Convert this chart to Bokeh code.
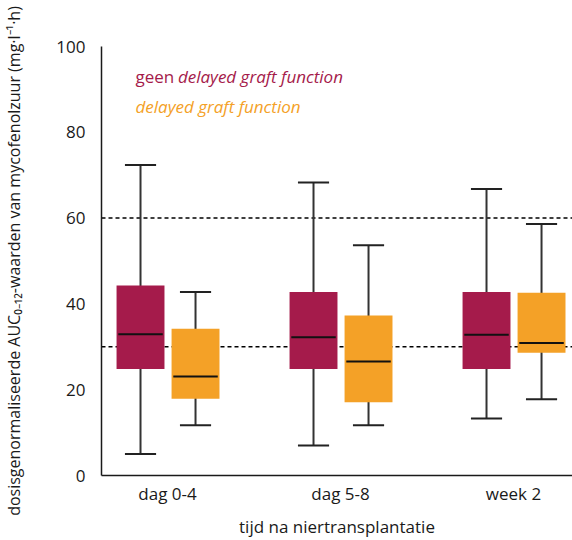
import numpy as np
from bokeh.plotting import figure
from bokeh.models import ColumnDataSource, Range1d, FixedTicker, Span, Label
from bokeh.embed import file_html
from bokeh.resources import INLINE

# ---- data ----
categories = ["dag 0-4", "dag 5-8", "week 2"]
series_names = ["geen delayed graft function", "delayed graft function"]

geen_min = [5.0, 7.0, 13.3]
geen_q1 = [24.8, 24.8, 24.8]
geen_median = [32.9, 32.2, 32.8]
geen_q3 = [44.3, 42.8, 42.8]
geen_max = [72.4, 68.3, 66.8]

dgf_min = [11.7, 11.7, 17.8]
dgf_q1 = [17.9, 17.1, 28.6]
dgf_median = [23.1, 26.6, 30.9]
dgf_q3 = [34.2, 37.3, 42.6]
dgf_max = [42.8, 53.7, 58.6]

reference_lines = [30, 60]
y_ticks = [0, 20, 40, 60, 80, 100]

x_title = "tijd na niertransplantatie"
y_title = ("dosisgenormaliseerde AUC\u2080\u208b\u2081\u2082-waarden van mycofenolzuur "
           "(mg\u00b7l\u207b\u00b9\u00b7h)")

RED = "#a51b4b"
ORANGE = "#f4a127"
INK = "#1a1a1a"
FONT = "Open Sans"

positions = np.arange(1, len(categories) + 1)

p = figure(width=572, height=540,
           x_range=Range1d(0.6185, 3.341), y_range=Range1d(0, 100),
           output_backend="svg", toolbar_location=None,
           min_border_left=101, min_border_right=0,
           min_border_top=46, min_border_bottom=65)
p.outline_line_color = None
p.xgrid.visible = False
p.ygrid.visible = False
p.background_fill_color = "white"
p.border_fill_color = "white"

for loc in reference_lines:
    p.add_layout(Span(location=loc, dimension="width", line_color="black",
                      line_width=1.5, line_dash="4 3", level="underlay"))

box_w = 0.277
cap_half = 0.09
offsets = [-0.156, 0.162]
groups = [
    (geen_min, geen_q1, geen_median, geen_q3, geen_max, RED),
    (dgf_min, dgf_q1, dgf_median, dgf_q3, dgf_max, ORANGE),
]

for (mn, q1, med, q3, mx, col), off in zip(groups, offsets):
    x = positions + off
    src = ColumnDataSource(dict(x=x, x0=x - cap_half, x1=x + cap_half,
                                bx0=x - box_w / 2 + 0.01, bx1=x + box_w / 2 - 0.01,
                                mn=mn, q1=q1, med=med, q3=q3, mx=mx))
    p.segment(x0="x", y0="mn", x1="x", y1="mx", source=src,
              line_color="#333333", line_width=2)
    p.segment(x0="x0", y0="mx", x1="x1", y1="mx", source=src,
              line_color="#222222", line_width=2)
    p.segment(x0="x0", y0="mn", x1="x1", y1="mn", source=src,
              line_color="#222222", line_width=2)
    p.vbar(x="x", width=box_w, bottom="q1", top="q3", source=src,
           fill_color=col, line_color=None)
    p.segment(x0="bx0", y0="med", x1="bx1", y1="med", source=src,
              line_color="#111111", line_width=2)

# axes
for ax in (p.xaxis[0], p.yaxis[0]):
    ax.axis_line_color = INK
    ax.axis_line_width = 1.5
    ax.major_tick_line_color = None
    ax.minor_tick_line_color = None
    ax.major_label_text_font = FONT
    ax.major_label_text_font_size = "17px"
    ax.major_label_text_color = INK
    ax.axis_label_text_font = FONT
    ax.axis_label_text_font_style = "normal"
    ax.axis_label_text_color = INK

p.xaxis.ticker = FixedTicker(ticks=list(positions))
p.xaxis.major_label_overrides = {int(i): c for i, c in zip(positions, categories)}
p.xaxis.major_label_standoff = 0
p.xaxis.axis_label = x_title
p.xaxis.axis_label_text_font_size = "17px"
p.xaxis.axis_label_standoff = 7

p.yaxis.ticker = FixedTicker(ticks=y_ticks)
p.yaxis.major_label_standoff = 10
p.yaxis.axis_label = y_title
p.yaxis.axis_label_text_font_size = "16px"
p.yaxis.axis_label_standoff = 28

# legend texts
p.add_layout(Label(x=0.815, y=92.9, text="geen", text_color=RED,
                   text_font=FONT, text_font_size="17px", text_baseline="alphabetic"))
p.add_layout(Label(x=1.06, y=92.9, text="delayed graft function", text_color=RED,
                   text_font=FONT, text_font_size="17px", text_font_style="italic",
                   text_baseline="alphabetic"))
p.add_layout(Label(x=0.815, y=86.0, text="delayed graft function", text_color=ORANGE,
                   text_font=FONT, text_font_size="17px", text_font_style="italic",
                   text_baseline="alphabetic"))

open("out.html", "w").write(file_html(p, INLINE))
